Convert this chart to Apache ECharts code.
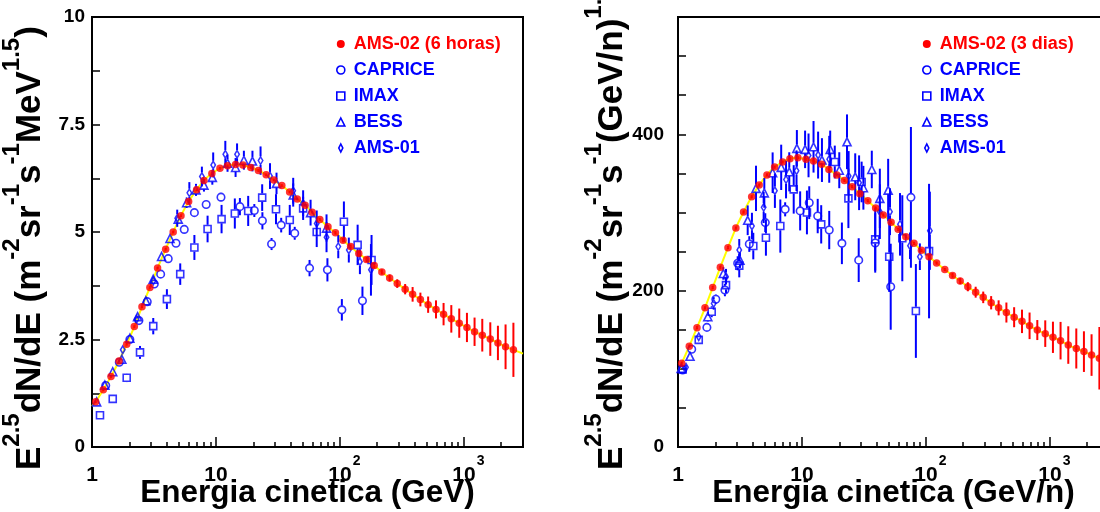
<!DOCTYPE html>
<html>
<head>
<meta charset="utf-8">
<script src="https://cdn.jsdelivr.net/npm/echarts@6/dist/echarts.min.js"></script>
<style>
  html, body { margin: 0; padding: 0; background: #fff; }
  #chart { width: 1100px; height: 512px; }
</style>
</head>
<body>
<div id="chart"></div>
<script>
const FONT = '"Liberation Sans", Arial, Helvetica, sans-serif';
const RED = '#ff0000';
const BLUE = '#0000ff';
const YELLOW = '#ffff00';

// ---- AMS-02 energy bins (GeV or GeV/n), shared by both panels ----
const ams02Energy = [1.071, 1.233, 1.423, 1.651, 1.905, 2.195, 2.53, 2.93, 3.38, 3.93,
  4.52, 5.22, 6.02, 6.98, 8.0, 9.27, 10.77, 12.4, 14.4, 16.5,
  19.1, 22.0, 25.4, 29.3, 34.0, 39.3, 45.3, 52.4, 59.7, 68.9,
  80.1, 92, 106, 122, 142, 164, 189, 218, 252, 290,
  336, 386, 446, 515, 596, 686, 792, 918, 1059, 1220,
  1408, 1634, 1883, 2170, 2510];

// AMS-02 (6 horas), E^2.5 dN/dE
const ams02Flux6h = [1.05, 1.33, 1.64, 2.0, 2.39, 2.8, 3.26, 3.71, 4.16, 4.6,
  5.0, 5.38, 5.71, 5.98, 6.2, 6.36, 6.48, 6.54, 6.57, 6.56,
  6.5, 6.43, 6.33, 6.21, 6.08, 5.93, 5.77, 5.62, 5.46, 5.29,
  5.12, 4.98, 4.81, 4.66, 4.5, 4.36, 4.22, 4.07, 3.93, 3.8,
  3.67, 3.55, 3.43, 3.31, 3.2, 3.09, 2.98, 2.88, 2.78, 2.68,
  2.6, 2.51, 2.42, 2.33, 2.26];
const ams02Err6h = [0.03, 0.03, 0.03, 0.03, 0.03, 0.03, 0.03, 0.03, 0.03, 0.03,
  0.03, 0.03, 0.03, 0.03, 0.03, 0.03, 0.03, 0.03, 0.03, 0.03,
  0.03, 0.03, 0.03, 0.03, 0.03, 0.03, 0.03, 0.03, 0.03, 0.03,
  0.04, 0.04, 0.05, 0.05, 0.06, 0.06, 0.07, 0.06, 0.08, 0.1,
  0.12, 0.17, 0.16, 0.19, 0.21, 0.26, 0.32, 0.34, 0.34, 0.33,
  0.38, 0.39, 0.4, 0.52, 0.63];

// AMS-02 (3 dias), E^2.5 dN/dE
const ams02Flux3d = [107, 129, 152.6, 178, 204, 230, 255, 280, 300.5, 320,
  335, 348, 358, 364.5, 368.7, 370, 368, 365.7, 361.5, 355,
  348, 341, 333, 324, 315, 305.6, 296.7, 287.5, 278.4, 269,
  260.5, 251.5, 243.4, 235.3, 227, 219.5, 212.3, 205, 198, 191.4,
  184.5, 178, 172, 166, 160.7, 155, 149.6, 145, 140.3, 136,
  130.4, 126, 122, 117.6, 113.4];
const ams02Err3d = [2, 2, 2, 2, 2, 2, 2, 2, 2, 2,
  2, 2, 2, 2, 2, 2, 2, 2, 2, 2,
  2, 2, 2, 2, 2, 2, 2, 2, 2, 2,
  2, 2, 2, 2, 2, 3, 4, 5.8, 7, 7.4,
  8.5, 9.6, 12.8, 12.8, 15, 17, 12.8, 17, 20, 24,
  24, 25.6, 26, 26.6, 40];

// model curve end points (beyond the first and last AMS-02 bins)
const fitEnds6h = [[1.0, 0.95], [3000, 2.17]];
const fitEnds3d = [[1.0, 96], [3000, 108]];

// ---- earlier measurements: [energy, E^2.5 dN/dE, error] ----
const caprice6h = [[1.29, 1.43, 0.03], [1.66, 1.97, 0.04], [2.02, 2.5, 0.05], [2.39, 2.94, 0.05],
  [2.79, 3.38, 0.06], [3.18, 3.79, 0.06], [3.58, 4.02, 0.07], [4.12, 4.38, 0.07],
  [4.76, 4.74, 0.08], [5.55, 5.06, 0.08], [6.7, 5.45, 0.08], [8.34, 5.64, 0.1],
  [10.98, 5.81, 0.1], [15.6, 5.59, 0.2], [20.4, 5.5, 0.15], [23.7, 5.26, 0.2],
  [28.1, 4.72, 0.14], [33.6, 5.16, 0.17], [43.2, 4.97, 0.15], [56.9, 4.16, 0.19],
  [79.3, 4.12, 0.27], [103.7, 3.19, 0.25], [152, 3.4, 0.33]];
const imax6h = [[1.16, 0.74, 0.02], [1.47, 1.12, 0.05], [1.905, 1.61, 0.1], [2.44, 2.2, 0.15],
  [3.12, 2.81, 0.19], [4.02, 3.44, 0.23], [5.15, 4.02, 0.25], [6.7, 4.64, 0.29],
  [8.56, 5.07, 0.31], [11.1, 5.3, 0.33], [14.2, 5.43, 0.35], [18.2, 5.49, 0.35],
  [23.6, 5.8, 0.31], [30.5, 5.53, 0.35], [39.4, 5.28, 0.35], [50.5, 5.55, 0.27],
  [65, 5.0, 0.35], [107.7, 5.24, 0.47], [139, 4.7, 0.47], [180, 4.35, 0.58]];
const bess6h = [[1.09, 1.05, 0.03], [1.27, 1.44, 0.03], [1.47, 1.75, 0.04], [1.74, 2.04, 0.04],
  [2.02, 2.53, 0.05], [2.33, 3.03, 0.05], [2.72, 3.4, 0.06], [3.12, 3.9, 0.06],
  [3.64, 4.43, 0.07], [4.26, 4.85, 0.08], [4.96, 5.3, 0.1], [5.8, 5.68, 0.12],
  [6.9, 5.98, 0.14], [8.0, 6.09, 0.15], [9.35, 6.27, 0.17], [12.4, 6.6, 0.2],
  [14.4, 6.5, 0.22], [16.8, 6.67, 0.22], [19.7, 6.65, 0.24], [30.8, 6.13, 0.25],
  [42, 5.86, 0.27], [58, 5.45, 0.3], [78, 5.09, 0.32]];
const ams01_6h = [[1.77, 2.26, 0.05], [2.29, 2.97, 0.06], [3.12, 3.86, 0.08], [4.87, 5.32, 0.2],
  [6.1, 5.91, 0.25], [7.7, 6.29, 0.23], [9.5, 6.56, 0.29], [11.9, 6.81, 0.31],
  [14.8, 6.81, 0.25], [22.9, 6.66, 0.33], [27.3, 6.3, 0.3], [42, 5.96, 0.3],
  [50.5, 5.67, 0.3], [65, 5.2, 0.3], [78, 4.88, 0.35], [97, 4.66, 0.27],
  [118, 4.58, 0.29], [145, 4.31, 0.29], [178, 4.12, 0.6]];

const caprice3d = [[1.09, 98.5, 3], [1.29, 125, 4], [1.71, 153, 5], [2.02, 189, 6],
  [2.39, 200.8, 8], [3.03, 235, 9], [3.76, 259.6, 10], [5.06, 287, 12],
  [7.32, 304, 9], [9.67, 302, 25], [11.45, 312.5, 21], [13.4, 295.4, 22],
  [16.6, 277.5, 24.5], [21, 260.5, 26.6], [28.7, 239, 28], [39, 261, 38],
  [52, 205, 55], [75.7, 319.3, 90]];
const imax3d = [[1.09, 99.3, 3], [1.47, 137, 5], [1.87, 173, 7], [2.44, 207, 10],
  [3.12, 232, 15], [4.05, 257, 17], [5.12, 267.7, 23], [6.69, 282.6, 34],
  [8.58, 329.5, 31], [10.97, 300, 28], [14.3, 284.8, 24.5], [18.4, 364.5, 21],
  [23.7, 318, 38], [30.3, 339, 26], [39, 265.6, 40], [50.6, 243.3, 45],
  [64.5, 267, 55], [83, 174, 60], [106, 250.6, 86]];
const bess3d = [[1.06, 100.6, 3], [1.25, 116, 4], [1.74, 166.6, 6], [2.32, 222, 8],
  [3.16, 239, 10], [3.65, 290, 19], [4.26, 330.8, 29], [4.97, 325, 19],
  [5.8, 350.8, 26], [6.8, 357.7, 29], [7.9, 352, 25], [9.1, 382, 23.4],
  [10.6, 380.7, 24], [12.4, 384, 33], [14.5, 367, 28], [16.9, 380.7, 24],
  [20, 354, 23], [23.1, 390.4, 35], [26.9, 345.6, 30], [31.3, 331.6, 28],
  [36.6, 355, 24], [42.5, 318, 38], [49.6, 328.6, 40]];
const ams01_3d = [[1.16, 102, 3], [1.47, 141, 5], [1.94, 183.7, 8], [2.44, 217.8, 10],
  [3.12, 252, 14], [3.95, 282.6, 17], [4.91, 306.5, 20], [6.05, 327.8, 22],
  [7.44, 342, 24], [9.04, 353.4, 26], [11.3, 373, 28], [13.5, 373.4, 30],
  [16.6, 368, 30], [23.8, 346.5, 32], [28.9, 338, 35], [42.5, 301, 35],
  [51.3, 301, 30], [61.8, 284.8, 40], [74.4, 257.4, 17], [89.4, 243.4, 17],
  [107.6, 276.6, 50]];

// ---- axis ticks and labels ----
const xMajorTicks = [1, 10, 100, 1000];
const xMinorTicks = [2, 3, 4, 5, 6, 7, 8, 9, 20, 30, 40, 50, 60, 70, 80, 90,
  200, 300, 400, 500, 600, 700, 800, 900, 2000, 3000];
const yLabelStep6h = 2.5;
const yLabelStep3d = 200;

const xTitle6h = 'Energia cinetica (GeV)';
const xTitle3d = 'Energia cinetica (GeV/n)';
// y titles as [text, superscript?] pieces
const yTitle6h = [['E', 0], ['2.5', 1], ['dN/dE (m', 0], ['-2', 1], ['sr', 0], ['-1', 1],
  ['s', 0], ['-1', 1], ['MeV', 0], ['1.5', 1], [')', 0]];
const yTitle3d = [['E', 0], ['2.5', 1], ['dN/dE (m', 0], ['-2', 1], ['sr', 0], ['-1', 1],
  ['s', 0], ['-1', 1], ['(GeV/n)', 0], ['1.5', 1], [')', 0]];

// ---------------------------------------------------------------
const pairs = (xs, ys) => xs.map((x, i) => [x, ys[i]]);
const triples = (xs, ys, es) => xs.map((x, i) => [x, ys[i], es[i]]);

// vertical error bar, leaving a gap around hollow markers
function errorBars(name, data, xi, yi, color, gap) {
  return {
    name: name, type: 'custom', xAxisIndex: xi, yAxisIndex: yi,
    data: data, clip: true, z: 3, silent: true,
    encode: { x: 0, y: 1 },
    renderItem: function (params, api) {
      const x = api.value(0), y = api.value(1), e = api.value(2);
      const c = api.coord([x, y]);
      const t = api.coord([x, y + e]);
      const b = api.coord([x, Math.max(y - e, 1e-9)]);
      const st = { stroke: color, lineWidth: 2 };
      const kids = [];
      if (c[1] - gap > t[1]) kids.push({ type: 'line', shape: { x1: c[0], y1: t[1], x2: c[0], y2: c[1] - gap }, style: st });
      if (b[1] > c[1] + gap) kids.push({ type: 'line', shape: { x1: c[0], y1: c[1] + gap, x2: c[0], y2: b[1] }, style: st });
      return { type: 'group', children: kids };
    }
  };
}

const hollow = { color: 'rgba(255,255,255,0)', borderColor: BLUE, borderWidth: 1.6 };
const blueSets = [
  { name: 'CAPRICE', symbol: 'circle', size: 7.5 },
  { name: 'IMAX', symbol: 'rect', size: 7 },
  { name: 'BESS', symbol: 'triangle', size: 8 },
  { name: 'AMS-01', symbol: 'diamond', size: [4.5, 7.5] }
];

function panelSeries(xi, yi, redName, redFlux, redErr, fitEnds, sets) {
  const out = [];
  // model curve
  out.push({
    name: redName, type: 'line', xAxisIndex: xi, yAxisIndex: yi,
    data: [fitEnds[0]].concat(pairs(ams02Energy, redFlux), [fitEnds[1]]),
    showSymbol: false, smooth: 0.2, clip: true, z: 2, silent: true,
    lineStyle: { color: YELLOW, width: 2 }, itemStyle: { color: RED }
  });
  sets.forEach((d, i) => {
    const s = blueSets[i];
    out.push(errorBars(s.name, d, xi, yi, BLUE, 4.2));
    out.push({
      name: s.name, type: 'scatter', xAxisIndex: xi, yAxisIndex: yi,
      data: d.map(r => [r[0], r[1]]), symbol: s.symbol, symbolSize: s.size,
      itemStyle: hollow, z: 4, clip: true
    });
  });
  out.push(errorBars(redName, triples(ams02Energy, redFlux, redErr), xi, yi, RED, 0));
  out.push({
    name: redName, type: 'scatter', xAxisIndex: xi, yAxisIndex: yi,
    data: pairs(ams02Energy, redFlux), symbol: 'circle', symbolSize: 7.5,
    itemStyle: { color: RED }, z: 5, clip: true
  });
  return out;
}

function xLabel(v) {
  const p = Math.round(Math.log10(v));
  if (p === 0) return '{n|1}';
  if (p === 1) return '{n|10}';
  return '{pad| }{n|10}{s|' + p + '}';
}
// tall line box for the digits so the exponent sits well above them
const xLabelRich = {
  n: { fontFamily: FONT, fontWeight: 'bold', fontSize: 21, color: '#000', lineHeight: 42, verticalAlign: 'middle' },
  s: { fontFamily: FONT, fontWeight: 'bold', fontSize: 14, color: '#000', lineHeight: 12, padding: [0, 0, 0, 1], verticalAlign: 'top' },
  pad: { width: 9, fontSize: 14, lineHeight: 12 }
};

function xAxes(grid, title) {
  return [{
    gridIndex: grid, type: 'log', logBase: 10, min: 1, max: 3000, position: 'bottom',
    axisLine: { show: false }, splitLine: { show: false },
    axisTick: { inside: true, length: 10, customValues: xMajorTicks, lineStyle: { color: '#000', width: 1.5 } },
    axisLabel: { customValues: xMajorTicks, formatter: xLabel, rich: xLabelRich, margin: 7 },
    name: title, nameLocation: 'middle', nameGap: 30, nameMoveOverlap: false,
    nameTextStyle: { fontFamily: FONT, fontWeight: 'bold', fontSize: 31.5, color: '#000' }
  }, {
    gridIndex: grid, type: 'log', logBase: 10, min: 1, max: 3000, position: 'bottom',
    axisLine: { show: false }, splitLine: { show: false }, axisLabel: { show: false },
    axisTick: { inside: true, length: 5, customValues: xMinorTicks, lineStyle: { color: '#000', width: 1.5 } }
  }];
}

function yAxis(grid, max, interval, labelStep, margin) {
  return {
    gridIndex: grid, type: 'value', min: 0, max: max, interval: interval,
    axisLine: { show: false }, splitLine: { show: false },
    axisTick: { inside: true, length: 8, lineStyle: { color: '#000', width: 1.5 } },
    axisLabel: {
      margin: margin, fontFamily: FONT, fontWeight: 'bold', fontSize: 19, color: '#000',
      formatter: v => (Math.abs(v / labelStep - Math.round(v / labelStep)) < 1e-9 ? String(v) : ''),
      showMaxLabel: true
    }
  };
}

function legendFor(left, redName) {
  const txt = { fontFamily: FONT, fontWeight: 'bold', fontSize: 18, color: BLUE, padding: [0, 0, 0, 4] };
  return {
    orient: 'vertical', left: left, top: 30, itemGap: 8, itemWidth: 8, itemHeight: 8,
    selectedMode: false, textStyle: txt,
    data: [
      { name: redName, icon: 'circle', itemStyle: { color: RED, borderWidth: 0 }, textStyle: { color: RED } },
      { name: 'CAPRICE', icon: 'circle', itemStyle: hollow },
      { name: 'IMAX', icon: 'rect', itemStyle: hollow },
      { name: 'BESS', icon: 'triangle', itemStyle: hollow },
      { name: 'AMS-01', icon: 'path://M0,0L2,4L0,8L-2,4Z', itemStyle: hollow }
    ]
  };
}

// rotated axis title laid out piece by piece, superscripts raised
const measureCtx = document.createElement('canvas').getContext('2d');
const TITLE_MAIN = 35, TITLE_SUP = 24, SUP_RAISE = 17.5;
function titleGroup(parts, cx, bottom) {
  let pos = 0;
  const kids = parts.map(([txt, sup]) => {
    const size = sup ? TITLE_SUP : TITLE_MAIN;
    const font = 'bold ' + size + 'px ' + FONT;
    measureCtx.font = font;
    const el = {
      type: 'text', x: pos, y: sup ? -SUP_RAISE : 0,
      style: { text: txt, font: font, fill: '#000', align: 'left', verticalAlign: 'middle' }
    };
    pos += measureCtx.measureText(txt).width;
    return el;
  });
  return { type: 'group', x: cx, y: bottom, rotation: Math.PI / 2, silent: true, children: kids };
}

const chart = echarts.init(document.getElementById('chart'), null, { renderer: 'canvas' });
chart.setOption({
  animation: false,
  backgroundColor: '#fff',
  grid: [
    { left: 92, top: 17, width: 431, height: 430, outerBoundsMode: 'none', containLabel: false,
      show: true, borderColor: '#000', borderWidth: 2, backgroundColor: 'rgba(0,0,0,0)' },
    { left: 678, top: 17, width: 431, height: 430, outerBoundsMode: 'none', containLabel: false,
      show: true, borderColor: '#000', borderWidth: 2, backgroundColor: 'rgba(0,0,0,0)' }
  ],
  // x axes: 0/1 major+minor ticks of the left panel, 2/3 of the right panel
  xAxis: xAxes(0, xTitle6h).concat(xAxes(1, xTitle3d)),
  yAxis: [
    yAxis(0, 10, 1.25, yLabelStep6h, 7),
    yAxis(1, 550, 50, yLabelStep3d, 14)
  ],
  legend: [legendFor(331, 'AMS-02 (6 horas)'), legendFor(917, 'AMS-02 (3 dias)')],
  graphic: [titleGroup(yTitle6h, 30, 470), titleGroup(yTitle3d, 612, 470)],
  series: [].concat(
    panelSeries(0, 0, 'AMS-02 (6 horas)', ams02Flux6h, ams02Err6h, fitEnds6h, [caprice6h, imax6h, bess6h, ams01_6h]),
    panelSeries(2, 1, 'AMS-02 (3 dias)', ams02Flux3d, ams02Err3d, fitEnds3d, [caprice3d, imax3d, bess3d, ams01_3d])
  )
});
</script>
</body>
</html>
